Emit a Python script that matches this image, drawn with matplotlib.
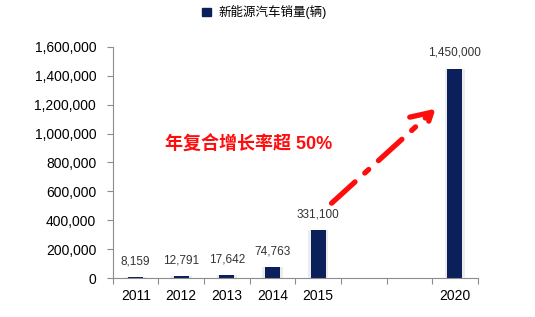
import numpy as np
import matplotlib.pyplot as plt
from matplotlib.ticker import FuncFormatter

plt.rcParams['font.family'] = ['Liberation Sans', 'Noto Sans CJK SC', 'DejaVu Sans']

years = ['2011', '2012', '2013', '2014', '2015', '', '', '2020']
sales = [8159, 12791, 17642, 74763, 331100, np.nan, np.nan, 1450000]
value_labels = ['8,159', '12,791', '17,642', '74,763', '331,100', '', '', '1,450,000']

navy = '#0b1f5b'
axis_gray = '#8c8c8c'

fig = plt.figure(figsize=(5.35, 3.17), dpi=100)
ax = fig.add_axes([0.211, 0.123, 0.682, 0.729])

x = np.arange(len(years))
vals = np.nan_to_num(np.array(sales, dtype=float))

# soft gray edge around bars
ax.bar(x, vals, width=0.45, color='#ececec', zorder=1)
ax.bar(x, vals, width=0.33, color=navy, zorder=2)

for xi, v, lab in zip(x, vals, value_labels):
    if lab:
        ax.annotate(lab, (xi, v), xytext=(0, 7), textcoords='offset points',
                    ha='center', va='bottom', fontsize=8.5, color='#333333')

ax.set_xlim(-0.5, len(years) - 0.5)
ax.set_ylim(0, 1600000)
ax.set_yticks(np.arange(0, 1600001, 200000))
ax.yaxis.set_major_formatter(FuncFormatter(lambda v, p: f'{int(v):,}'))

ax.set_xticks(np.arange(-0.5, len(years)))
ax.set_xticklabels([])
ax.set_xticks(x, minor=True)
ax.set_xticklabels(years, minor=True, fontsize=10)
ax.tick_params(axis='x', which='minor', length=0, pad=8)
ax.tick_params(axis='x', which='major', length=4, color=axis_gray)
ax.tick_params(axis='y', length=4, color=axis_gray, labelsize=10, pad=8)

for s in ['top', 'right']:
    ax.spines[s].set_visible(False)
for s in ['left', 'bottom']:
    ax.spines[s].set_color(axis_gray)

# growth arrow
ax.annotate('', xy=(6.62, 1185000), xytext=(4.25, 505000),
            arrowprops=dict(arrowstyle='->,head_length=1.4,head_width=0.8',
                            lw=3.8, color='#ff0d0d', linestyle=(0, (6, 2.5, 1, 2.5))),
            zorder=3)
ax.text(2.48, 920000, '年复合增长率超 50%', color='#ff0d0d', fontsize=13,
        fontweight='bold', ha='center', va='center')

ax.legend([plt.Rectangle((0, 0), 1, 1, color=navy)], ['新能源汽车销量(辆)'],
          loc='lower center', bbox_to_anchor=(0.415, 1.07), frameon=False,
          fontsize=9, handlelength=0.7, handleheight=0.7, handletextpad=0.6)

fig.savefig('out.png', dpi=100)
